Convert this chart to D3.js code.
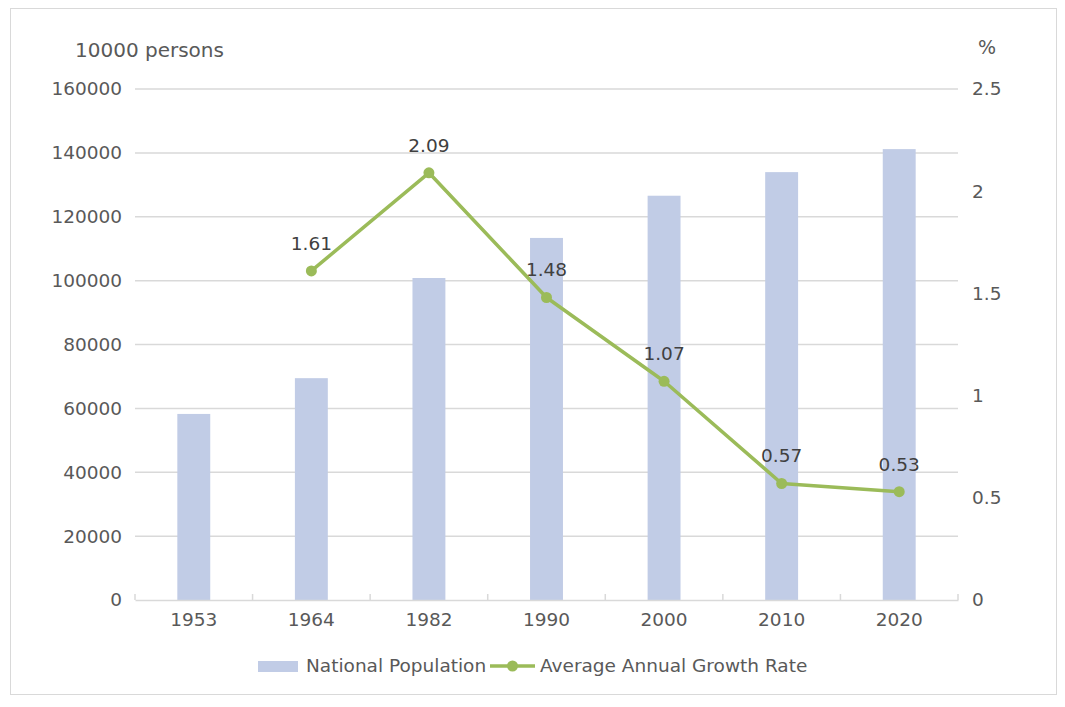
<!DOCTYPE html>
<html>
<head>
<meta charset="utf-8">
<script src="https://cdn.jsdelivr.net/npm/d3@7"></script>
<style>
  body { margin: 0; background: #fff; }
  text { font-family: "DejaVu Sans", Verdana, sans-serif; }
</style>
</head>
<body>
<svg id="chart" width="1065" height="707"></svg>
<script>
// datos del gráfico
const years = ["1953", "1964", "1982", "1990", "2000", "2010", "2020"];
const population = [58260, 69458, 100818, 113368, 126583, 133972, 141178];
const growthRate = [null, 1.61, 2.09, 1.48, 1.07, 0.57, 0.53];
const leftTicks = [0, 20000, 40000, 60000, 80000, 100000, 120000, 140000, 160000];
const rightTicks = [0, 0.5, 1, 1.5, 2, 2.5];

const svg = d3.select("#chart");
const barColor = "#c1cce6";
const lineColor = "#9bbb59";
const gridColor = "#d9d9d9";
const labelColor = "#595959";
const fs = 18.5; // tamaño de letra general

const margin = { left: 135, right: 107, top: 89, bottom: 107 };
const W = 1065, H = 707;

// marco exterior
svg.append("rect")
    .attr("x", 10.5).attr("y", 8.5)
    .attr("width", 1046).attr("height", 686)
    .attr("fill", "#fff")
    .attr("stroke", gridColor);

const x = d3.scaleBand()
    .domain(years)
    .range([margin.left, W - margin.right]);

const yL = d3.scaleLinear().domain([0, 160000]).range([H - margin.bottom, margin.top]);
const yR = d3.scaleLinear().domain([0, 2.5]).range([H - margin.bottom, margin.top]);

// líneas de la cuadrícula
svg.append("g").selectAll("line")
    .data(leftTicks.filter(d => d > 0))
    .join("line")
    .attr("x1", margin.left).attr("x2", W - margin.right)
    .attr("y1", d => yL(d)).attr("y2", d => yL(d))
    .attr("stroke", gridColor).attr("stroke-width", 1.5);

// eje izquierdo
const axisL = svg.append("g")
    .attr("transform", `translate(${margin.left - 13},0)`)
    .call(d3.axisLeft(yL).tickValues(leftTicks).tickFormat(d3.format("d")).tickSize(0).tickPadding(0));
axisL.select(".domain").remove();
axisL.selectAll("text").attr("font-size", fs).attr("fill", labelColor)
    .attr("font-family", "DejaVu Sans");

// eje derecho
const axisR = svg.append("g")
    .attr("transform", `translate(${W - margin.right + 14},0)`)
    .call(d3.axisRight(yR).tickValues(rightTicks).tickFormat(d => String(d)).tickSize(0).tickPadding(0));
axisR.select(".domain").remove();
axisR.selectAll("text").attr("font-size", fs).attr("fill", labelColor)
    .attr("font-family", "DejaVu Sans");

// barras
svg.append("g").selectAll("rect")
    .data(population)
    .join("rect")
    .attr("x", (d, i) => x(years[i]) + x.bandwidth() * 0.36)
    .attr("width", x.bandwidth() * 0.28)
    .attr("y", d => yL(d))
    .attr("height", d => yL(0) - yL(d))
    .attr("fill", barColor);

// eje inferior
const axisB = svg.append("g")
    .attr("transform", `translate(0,${yL(0)})`)
    .call(d3.axisBottom(x).tickSize(0).tickPadding(13));
axisB.select(".domain").attr("stroke", gridColor).attr("stroke-width", 1.5);
axisB.selectAll("text").attr("font-size", fs).attr("fill", labelColor)
    .attr("font-family", "DejaVu Sans");
// marcas entre categorías
svg.append("g").selectAll("line")
    .data(years.concat(["end"]))
    .join("line")
    .attr("x1", (d, i) => margin.left + i * x.step())
    .attr("x2", (d, i) => margin.left + i * x.step())
    .attr("y1", yL(0)).attr("y2", yL(0) - 6)
    .attr("stroke", gridColor).attr("stroke-width", 1.5);

// línea de crecimiento
const pts = growthRate.map((v, i) => ({ year: years[i], v })).filter(d => d.v !== null);
const line = d3.line()
    .x(d => x(d.year) + x.bandwidth() / 2)
    .y(d => yR(d.v));
svg.append("path")
    .datum(pts)
    .attr("d", line)
    .attr("fill", "none")
    .attr("stroke", lineColor)
    .attr("stroke-width", 3.5)
    .attr("stroke-linejoin", "round");
svg.append("g").selectAll("circle")
    .data(pts)
    .join("circle")
    .attr("cx", d => x(d.year) + x.bandwidth() / 2)
    .attr("cy", d => yR(d.v))
    .attr("r", 5.5)
    .attr("fill", lineColor);
svg.append("g").selectAll("text")
    .data(pts)
    .join("text")
    .attr("x", d => x(d.year) + x.bandwidth() / 2)
    .attr("y", d => yR(d.v) - 21)
    .attr("text-anchor", "middle")
    .attr("font-size", fs)
    .attr("fill", "#404040")
    .text(d => d.v.toFixed(2));

// títulos de los ejes
svg.append("text")
    .attr("x", 75).attr("y", 57)
    .attr("font-size", 20).attr("fill", labelColor)
    .text("10000 persons");
svg.append("text")
    .attr("x", 978).attr("y", 54)
    .attr("font-size", 19).attr("fill", labelColor)
    .text("%");

// leyenda
const leg = svg.append("g");
leg.append("rect")
    .attr("x", 258).attr("y", 661).attr("width", 40).attr("height", 11)
    .attr("fill", barColor);
leg.append("text")
    .attr("x", 306).attr("y", 672)
    .attr("font-size", fs).attr("fill", labelColor)
    .text("National Population");
leg.append("line")
    .attr("x1", 490).attr("x2", 535).attr("y1", 666).attr("y2", 666)
    .attr("stroke", lineColor).attr("stroke-width", 3.5);
leg.append("circle")
    .attr("cx", 512.5).attr("cy", 666).attr("r", 5.5).attr("fill", lineColor);
leg.append("text")
    .attr("x", 540).attr("y", 672)
    .attr("font-size", fs).attr("fill", labelColor)
    .text("Average Annual Growth Rate");
</script>
</body>
</html>
